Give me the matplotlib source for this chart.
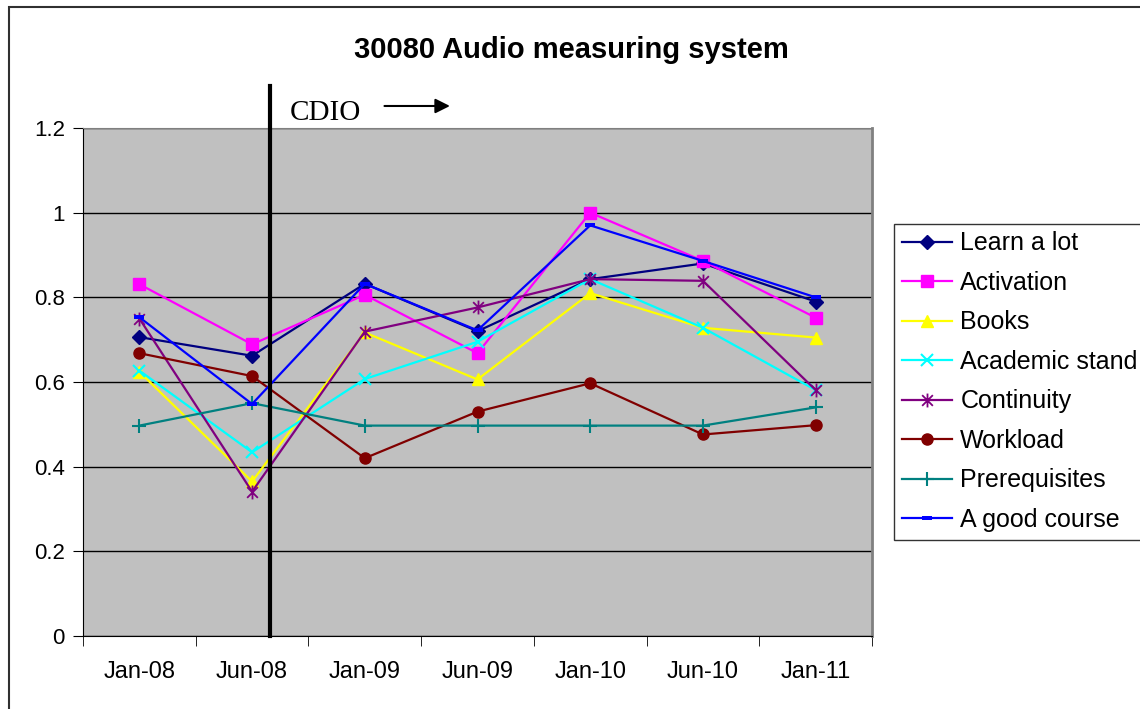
import numpy as np
import matplotlib.pyplot as plt
from matplotlib.path import Path
from matplotlib.patches import Rectangle

categories = ['Jan-08', 'Jun-08', 'Jan-09', 'Jun-09', 'Jan-10', 'Jun-10', 'Jan-11']

learn_a_lot = [0.706, 0.662, 0.832, 0.720, 0.843, 0.880, 0.790]
activation = [0.831, 0.689, 0.806, 0.668, 1.000, 0.886, 0.752]
books = [0.624, 0.365, 0.717, 0.606, 0.810, 0.728, 0.705]
academic_stand = [0.627, 0.434, 0.607, 0.695, 0.843, 0.728, 0.581]
continuity = [0.750, 0.341, 0.719, 0.776, 0.843, 0.839, 0.581]
workload = [0.668, 0.614, 0.420, 0.530, 0.597, 0.476, 0.498]
prerequisites = [0.497, 0.550, 0.497, 0.497, 0.497, 0.497, 0.540]
good_course = [0.753, 0.548, 0.832, 0.722, 0.970, 0.886, 0.800]

yticks = [0, 0.2, 0.4, 0.6, 0.8, 1.0, 1.2]
ytick_labels = ['0', '0.2', '0.4', '0.6', '0.8', '1', '1.2']

plt.rcParams['font.family'] = ['Liberation Sans', 'DejaVu Sans']

# excel style markers
star = Path([(-1, -1), (1, 1), (-1, 1), (1, -1), (0, -1.3), (0, 1.3)],
            [Path.MOVETO, Path.LINETO, Path.MOVETO, Path.LINETO, Path.MOVETO, Path.LINETO])
dash = Path([(-1, -0.45), (1, -0.45), (1, 0.45), (-1, 0.45), (-1, -0.45)],
            [Path.MOVETO, Path.LINETO, Path.LINETO, Path.LINETO, Path.CLOSEPOLY])

series = [
    ('Learn a lot', learn_a_lot, '#000080', 'D', 7, {}),
    ('Activation', activation, '#FF00FF', 's', 8, {}),
    ('Books', books, '#FFFF00', '^', 9, {}),
    ('Academic stand', academic_stand, '#00FFFF', 'x', 9, {'markeredgewidth': 1.5}),
    ('Continuity', continuity, '#800080', star, 10, {'markeredgewidth': 1.3}),
    ('Workload', workload, '#800000', 'o', 8, {}),
    ('Prerequisites', prerequisites, '#008080', '+', 10, {'markeredgewidth': 1.5}),
    ('A good course', good_course, '#0000FF', dash, 7, {'markeredgewidth': 0}),
]

fig = plt.figure(figsize=(11.4, 7.09), dpi=100)
ax = fig.add_axes([83 / 1140, 1 - 636 / 709, (872 - 83) / 1140, (636 - 128) / 709])
ax.set_facecolor('#C0C0C0')

x = np.arange(len(categories))
for name, vals, col, mk, ms, extra in series:
    ax.plot(x, vals, color=col, lw=1.6, marker=mk, markersize=ms,
            markerfacecolor=col, markeredgecolor=col, label=name, **extra)

ax.set_xlim(-0.5, len(categories) - 0.5)
ax.set_ylim(0, 1.2)
ax.set_yticks(yticks)
ax.set_yticklabels(ytick_labels)
ax.set_xticks(x)
ax.set_xticklabels(categories)
ax.set_xticks(np.arange(-0.5, len(categories), 1), minor=True)
ax.tick_params(axis='x', which='major', length=0, pad=18, labelsize=17)
ax.tick_params(axis='x', which='minor', length=7, direction='out', color='black')
ax.tick_params(axis='y', length=7, direction='out', pad=6, labelsize=16)
ax.yaxis.grid(True, color='black', lw=1)
ax.set_axisbelow(True)
for side in ['top', 'right']:
    ax.spines[side].set_color('#808080')
ax.spines['right'].set_linewidth(2)
ax.spines['left'].set_color('black')
ax.spines['bottom'].set_color('black')

# CDIO start marker
ax.plot([1.16, 1.16], [0, 1.30], color='black', lw=3, clip_on=False, zorder=5)
ax.text(1.33, 1.235, 'CDIO', fontsize=21, family=['Liberation Serif', 'DejaVu Serif'],
        va='center', ha='left')
ax.annotate('', xy=(2.78, 1.252), xytext=(2.15, 1.252),
            arrowprops=dict(arrowstyle='-|>', color='black', lw=1.5, mutation_scale=22),
            annotation_clip=False)

fig.text(571 / 1140, 1 - 50 / 709, '30080 Audio measuring system', fontsize=21,
         fontweight='bold', ha='center', va='center')

leg = ax.legend(loc='upper left', bbox_to_anchor=(894 / 1140, 1 - 224 / 709),
                bbox_transform=fig.transFigure, fontsize=18, frameon=True,
                fancybox=False, edgecolor='black', handlelength=2.0,
                handletextpad=0.35, labelspacing=0.62, borderpad=0.3,
                borderaxespad=0)
leg.get_frame().set_linewidth(1)

fig.patches.append(Rectangle((9 / 1140, -0.05), 2, 1.05 - 6.5 / 709, transform=fig.transFigure,
                             fill=False, edgecolor='#303030', lw=1.5))

fig.savefig('out.png', dpi=100)
